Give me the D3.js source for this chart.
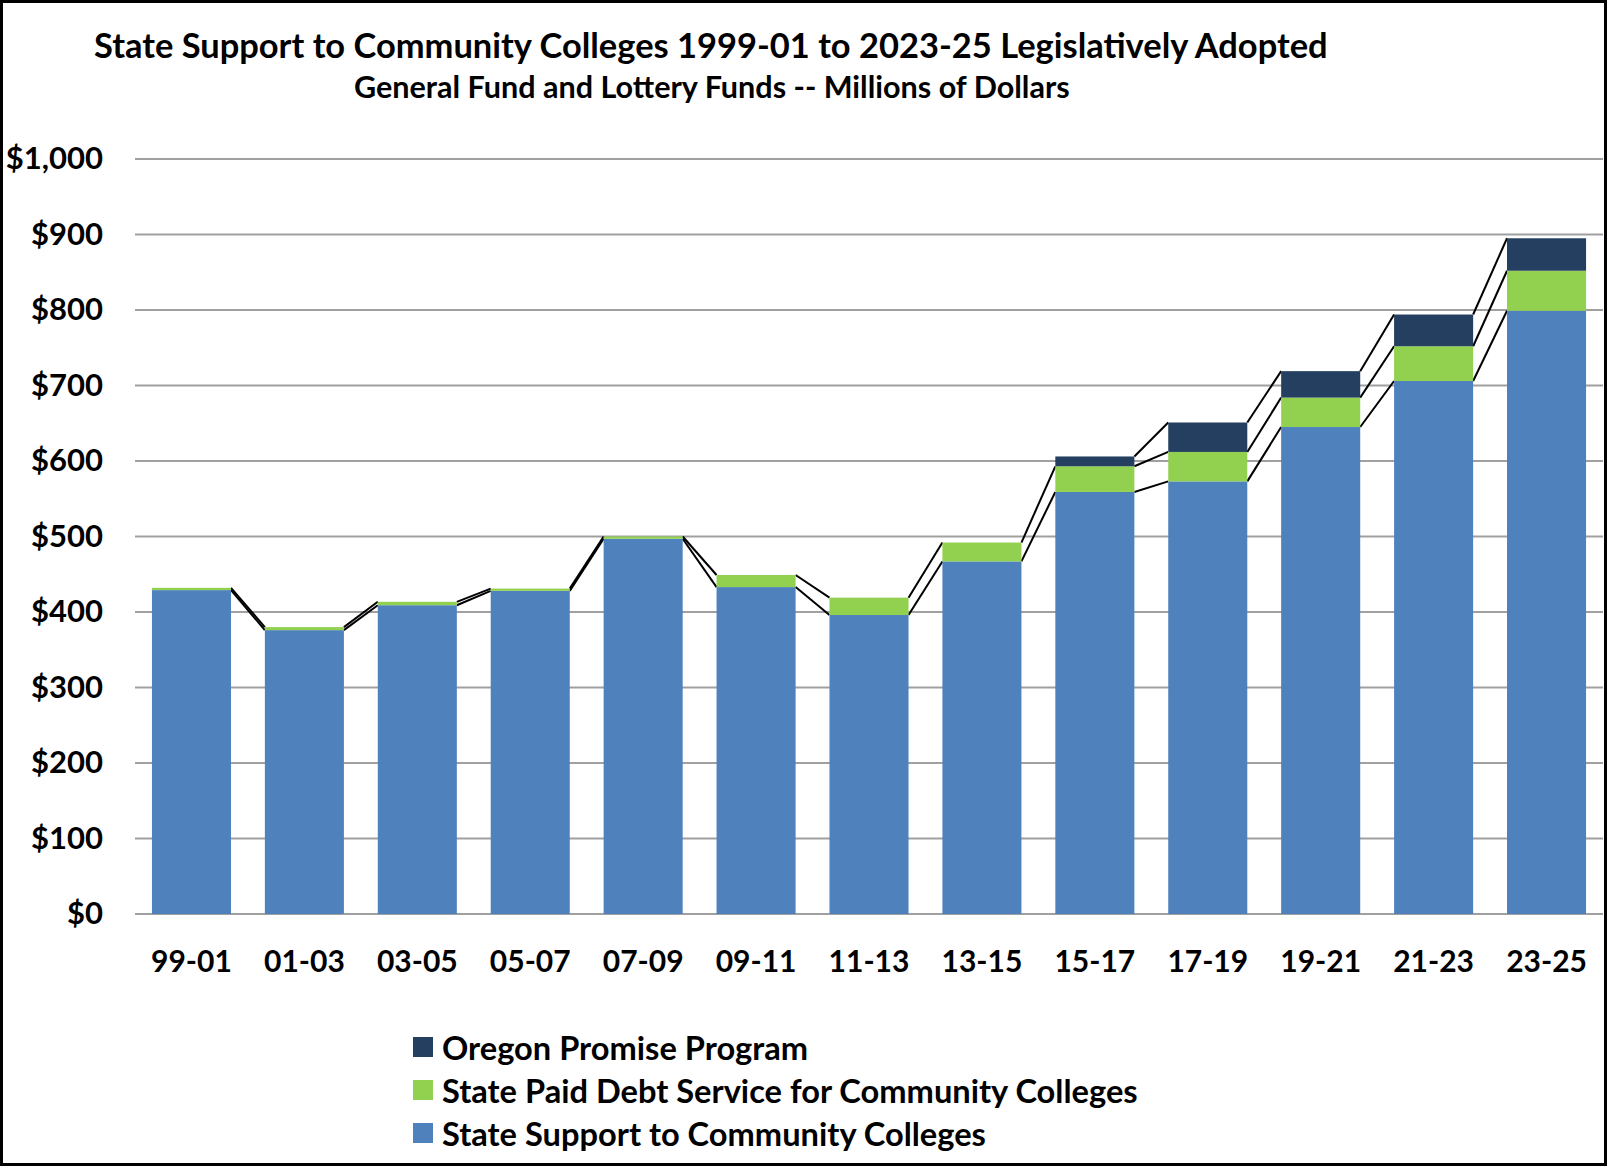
<!DOCTYPE html>
<html><head><meta charset="utf-8">
<script src="https://cdn.jsdelivr.net/npm/d3@7"></script>
<style>html,body{margin:0;padding:0;background:#fff;} svg{display:block;font-family:Lato,"Open Sans",sans-serif;font-weight:700;}</style>
</head><body>
<svg id="chart" width="1608" height="1167"></svg>
<script>
const categories = ["99-01","01-03","03-05","05-07","07-09","09-11","11-13","13-15","15-17","17-19","19-21","21-23","23-25"];
const stateSupport = [429,376,409,428,497,433,396,467,559,573,645,706,799];
const debtService = [3,4,4.5,3,3,16,23,25,34,39,39,46,53];
const oregonPromise = [null,null,null,null,null,null,null,null,13,39,35,42,43];
const yTicks = [0,100,200,300,400,500,600,700,800,900,1000];
const seriesNames = ["State Support to Community Colleges","State Paid Debt Service for Community Colleges","Oregon Promise Program"];
const seriesColors = ["#4F81BD","#92D050","#243F60"];
const titleText = "State Support to Community Colleges 1999-01 to 2023-25 Legislatively Adopted";
const subtitleText = "General Fund and Lottery Funds -- Millions of Dollars";

const svg = d3.select("#chart");
const x = d3.scaleBand().domain(categories).range([135,1603]).paddingInner(0.3).paddingOuter(0.15);
const y = d3.scaleLinear().domain([0,1000]).range([914,159]);

function fit(sel, w){ const n = sel.node(); const cur = n.getComputedTextLength(); const fs = parseFloat(sel.attr("font-size")); const nf = fs*w/cur; sel.attr("font-size", nf); return nf; }

// frame
svg.append("rect").attr("x",1.5).attr("y",1.5).attr("width",1604).attr("height",1163).attr("fill","none").attr("stroke","#000").attr("stroke-width",3);

// titles
const t = svg.append("text").attr("x",94).attr("y",44).attr("dominant-baseline","central").attr("font-size",30).text(titleText); fit(t,1234);
const st = svg.append("text").attr("x",354).attr("y",86).attr("dominant-baseline","central").attr("font-size",26).text(subtitleText); fit(st,716);

// gridlines
svg.append("g").selectAll("line").data(yTicks).join("line")
  .attr("x1",135).attr("x2",1603).attr("y1",d=>y(d)).attr("y2",d=>y(d))
  .attr("stroke","#A0A0A0").attr("stroke-width",2);

// y axis labels
const yAxis = d3.axisLeft(y).tickValues(yTicks).tickSize(0).tickPadding(0).tickFormat(d=>"$"+d3.format(",")(d));
const ga = svg.append("g").attr("transform","translate(103,0)").call(yAxis);
ga.select(".domain").remove();
ga.selectAll("text").attr("font-size",31).attr("font-family","Lato, 'Open Sans', sans-serif").attr("font-weight",700).attr("fill","#000");

// x axis labels
const xAxis = d3.axisBottom(x).tickSize(0).tickPadding(0);
const gx = svg.append("g").attr("transform","translate(0,951)").call(xAxis);
gx.select(".domain").remove();
gx.selectAll("text").attr("font-size",30).attr("font-family","Lato, 'Open Sans', sans-serif").attr("font-weight",700).attr("fill","#000");

// stacked data
const rows = categories.map((c,i)=>({cat:c, s:stateSupport[i], d:debtService[i], p:oregonPromise[i]}));
const stacks = rows.map(r=>{
  const b0=0,b1=r.s,g1=r.s+r.d,p1=r.p==null?null:g1+r.p;
  return {cat:r.cat, segs:[[b0,b1],[b1,g1],r.p==null?null:[g1,p1]]};
});

// series lines
const lineG = svg.append("g");
for(let k=0;k<3;k++){
  for(let i=0;i<stacks.length-1;i++){
    const a = stacks[i].segs[k], b = stacks[i+1].segs[k];
    if(!a||!b) continue;
    lineG.append("line")
      .attr("x1",x(stacks[i].cat)+x.bandwidth()).attr("y1",y(a[1]))
      .attr("x2",x(stacks[i+1].cat)).attr("y2",y(b[1]))
      .attr("stroke","#000").attr("stroke-width",2);
  }
}

// bars
for(let k=0;k<3;k++){
  svg.append("g").selectAll("rect").data(stacks.filter(s=>s.segs[k])).join("rect")
    .attr("x",d=>x(d.cat)).attr("width",x.bandwidth())
    .attr("y",d=>y(d.segs[k][1])).attr("height",d=>y(d.segs[k][0])-y(d.segs[k][1]))
    .attr("fill",seriesColors[k]);
}

// legend
const legendOrder = [2,1,0];
const lg = svg.append("g");
const texts = [];
legendOrder.forEach((k,j)=>{
  const cy = 1047 + j*43;
  lg.append("rect").attr("x",413).attr("y",cy-10).attr("width",20).attr("height",20).attr("fill",seriesColors[k]);
  const tx = lg.append("text").attr("x",442).attr("y",cy).attr("dominant-baseline","central").attr("font-size",28).text(seriesNames[k]);
  texts.push({k,tx});
});
const longest = texts.find(o=>o.k===1).tx;
const lfs = fit(longest,696);
texts.forEach(o=>o.tx.attr("font-size",lfs));
</script>
</body></html>
